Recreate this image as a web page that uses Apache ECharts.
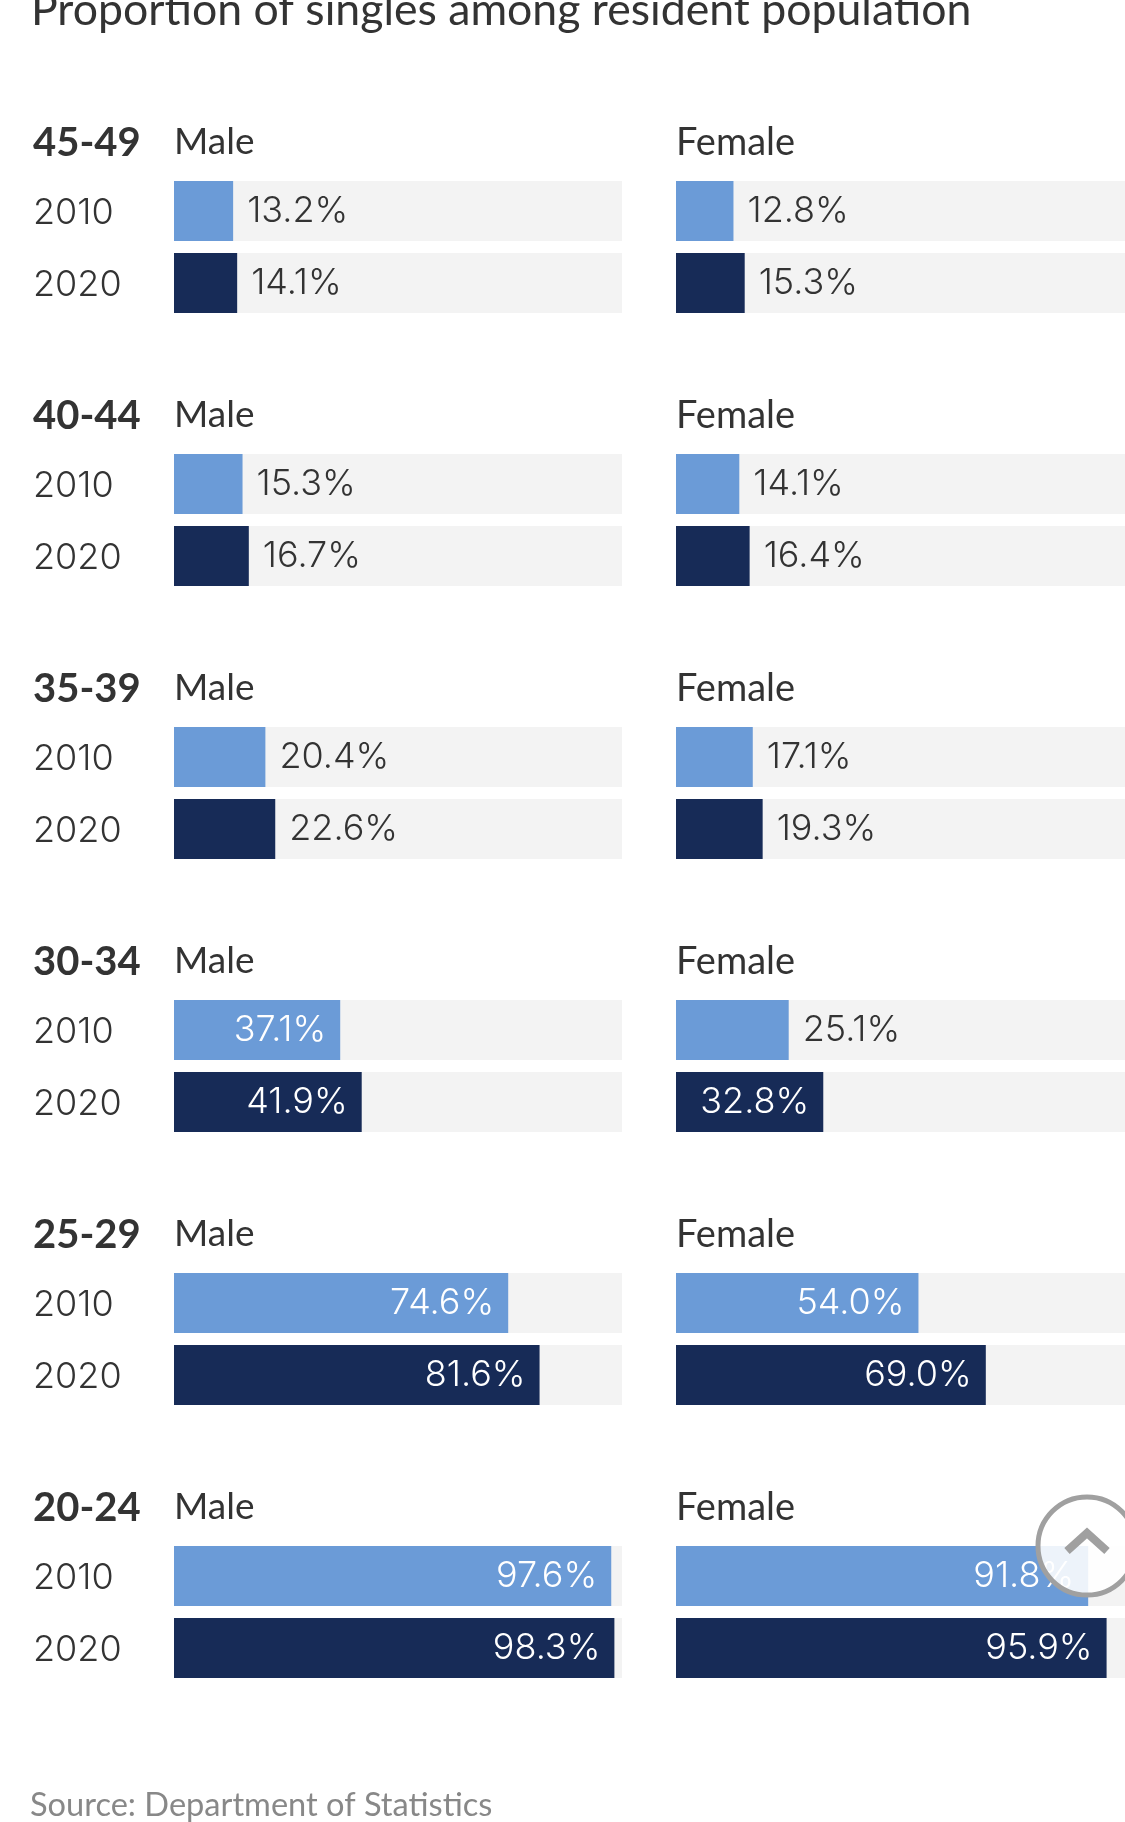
<!DOCTYPE html>
<html><head><meta charset="utf-8">
<style>html,body{margin:0;padding:0;background:#fff}#c{width:1125px;height:1822px}</style>
<script src="https://cdn.jsdelivr.net/npm/echarts@6/dist/echarts.min.js"></script>
</head><body><div id="c"></div>
<script>
const chartTitle = 'Proportion of singles among resident population';
const sourceNote = 'Source: Department of Statistics';
const ages = ['45-49','40-44','35-39','30-34','25-29','20-24'];
const years = ['2010','2020'];
const male2010 = [13.2,15.3,20.4,37.1,74.6,97.6];
const male2020 = [14.1,16.7,22.6,41.9,81.6,98.3];
const female2010 = [12.8,14.1,17.1,25.1,54.0,91.8];
const female2020 = [15.3,16.4,19.3,32.8,69.0,95.9];

const FONT='Lato', NUM='Inter', INK='#333333', C10='#6b9bd7', C20='#172b57', TRACK='#f3f3f3';
const PERIOD=273, TOP=175, H=144, LM=174, LF=676, WM=448, WF=449;
const grids=[],xAxes=[],yAxes=[],series=[],titles=[];
function item(v,color){
  const inside=v>=30;
  return {value:v,itemStyle:{color:color},label:{
    show:true,position:inside?'insideRight':'right',distance:14,
    color:inside?'#ffffff':INK,formatter:v.toFixed(1)+'%',fontFamily:NUM,fontSize:36,fontWeight:300}};
}
function t(text,left,top,size,weight,color){
  titles.push({text:text,left:left,top:top,padding:0,textStyle:{fontFamily:FONT,fontSize:size,fontWeight:weight,color:color}});
}
t(chartTitle,31,-12,44.6,'normal',INK);
t(sourceNote,30,1789,32.6,'normal','#888888');
ages.forEach((age,i)=>{
  const top=TOP+PERIOD*i;
  t(age,33,top-52,40,'bold',INK);
  t('Male',LM,top-51,37,'normal',INK);
  t('Female',LF,top-51,38,'normal',INK);
  [[LM,WM,male2010,male2020,true],[LF,WF,female2010,female2020,false]].forEach(p=>{
    const k=grids.length;
    grids.push({left:p[0],top:top,width:p[1],height:H,containLabel:false});
    xAxes.push({type:'value',gridIndex:k,min:0,max:100,show:false});
    yAxes.push({type:'category',gridIndex:k,inverse:true,data:years,
      axisLine:{show:false},axisTick:{show:false},splitLine:{show:false},
      axisLabel:{show:p[4],align:'left',margin:LM-33,formatter:'{y|{value}}',
        rich:{y:{color:INK,fontFamily:NUM,fontSize:36,fontWeight:300,padding:[4,0,0,0]}}}});
    series.push({type:'bar',xAxisIndex:k,yAxisIndex:k,barWidth:60,silent:true,
      showBackground:true,backgroundStyle:{color:TRACK},
      data:[item(p[2][i],C10),item(p[3][i],C20)]});
  });
});
const chart=echarts.init(document.getElementById('c'),null,{renderer:'canvas'});
chart.setOption({animation:false,backgroundColor:'#ffffff',title:titles,grid:grids,xAxis:xAxes,yAxis:yAxes,series:series,
  graphic:[
    {type:'circle',shape:{cx:1087,cy:1546,r:49},z:100,style:{fill:'rgba(255,255,255,0.88)',stroke:'#a0a0a0',lineWidth:5}},
    {type:'polyline',shape:{points:[[1067,1551],[1087,1533],[1107,1551]]},z:101,style:{fill:'none',stroke:'#a0a0a0',lineWidth:8}}
  ]});
</script></body></html>
